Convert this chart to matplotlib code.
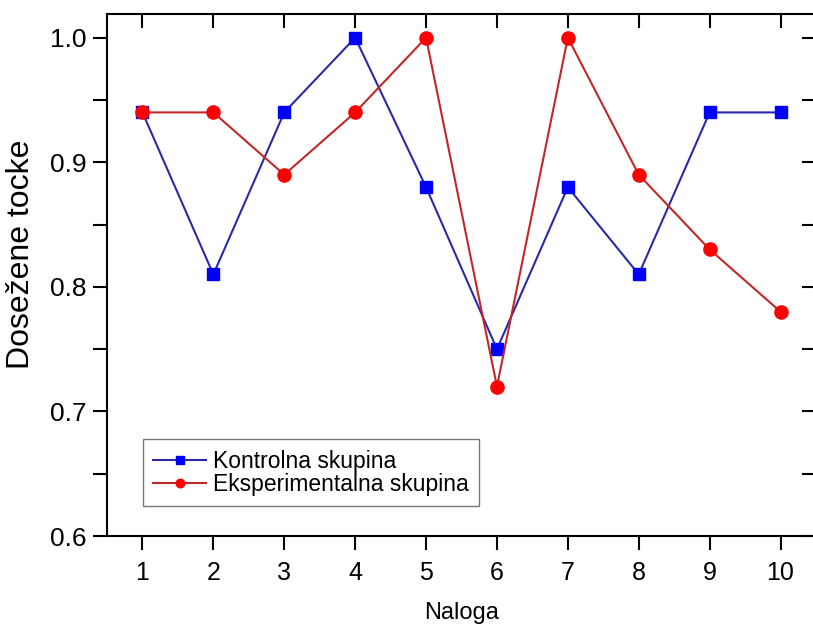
import matplotlib
matplotlib.use("Agg")
import matplotlib.pyplot as plt
from matplotlib.ticker import MultipleLocator

plt.rcParams['font.family'] = ['Liberation Sans', 'DejaVu Sans']

naloga = [1, 2, 3, 4, 5, 6, 7, 8, 9, 10]
kontrolna = [0.94, 0.81, 0.94, 1.00, 0.88, 0.75, 0.88, 0.81, 0.94, 0.94]
eksperimentalna = [0.94, 0.94, 0.89, 0.94, 1.00, 0.72, 1.00, 0.89, 0.83, 0.78]

W, H = 813, 626
fig = plt.figure(figsize=(W/100, H/100), dpi=100)
ax = fig.add_axes([107/W, 1-536/H, (816-107)/W, (536-14)/H])

ax.plot(naloga, kontrolna, color='#2a2aa8', lw=1.5, marker='s', ms=8.5,
        mfc='#0000ff', mec='#0000ff', label='Kontrolna skupina', zorder=3)
ax.plot(naloga, eksperimentalna, color='#c02828', lw=1.5, marker='o', ms=9.5,
        mfc='#ff0000', mec='#ff0000', label='Eksperimentalna skupina', zorder=3)

ax.set_xlim(0.5, 10.5)
ax.set_ylim(0.6, 1.019)
ax.xaxis.set_major_locator(MultipleLocator(1))
ax.yaxis.set_minor_locator(MultipleLocator(0.05))
ax.set_yticks([0.6, 0.7, 0.8, 0.9, 1.0])
ax.set_yticklabels(['0.6', '0.7', '0.8', '0.9', '1.0'])

for s in ax.spines.values():
    s.set_linewidth(1.5)

ax.tick_params(axis='x', which='major', direction='out', length=10, width=1.5,
               labelsize=18, pad=8, top=True)
ax.tick_params(axis='y', which='major', direction='out', length=10, width=1.5,
               labelsize=19, pad=5, right=True)
ax.tick_params(axis='y', which='minor', direction='out', length=10, width=1.5, right=True)
# inward ticks on top and right
for t in ax.xaxis.get_major_ticks():
    t.tick2line.set_marker(3)  # TICKDOWN
for t in ax.yaxis.get_major_ticks() + ax.yaxis.get_minor_ticks():
    t.tick2line.set_marker(0)  # TICKLEFT

ax.set_xlabel('Naloga', fontsize=17, va='top')
ax.xaxis.set_label_coords(0.5, (536-602)/522)
ax.set_ylabel('Dosežene tocke', fontsize=23)
ax.yaxis.set_label_coords((36-107)/709, (536-254)/522)

leg = ax.legend(loc='lower left', bbox_to_anchor=((143-107)/709, (536-506)/522),
                fontsize=16.5, frameon=True, fancybox=False, edgecolor='#555555',
                handlelength=2.3, handletextpad=0.3, borderpad=0.45,
                labelspacing=0.0, borderaxespad=0, markerscale=0.65)
leg.get_frame().set_linewidth(1.0)

fig.savefig('out.png', dpi=100)
